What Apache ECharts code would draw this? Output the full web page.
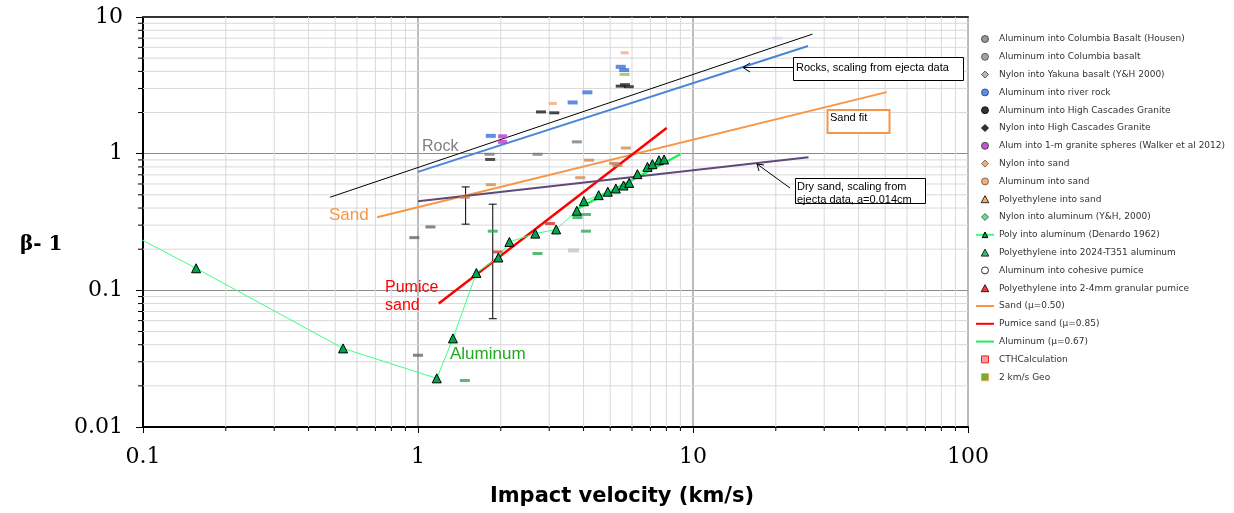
<!DOCTYPE html>
<html>
<head>
<meta charset="utf-8">
<script src="https://cdn.jsdelivr.net/npm/echarts@6/dist/echarts.min.js"></script>
<style>
  html, body { margin: 0; padding: 0; background: #fff; }
  #chart { width: 1234px; height: 513px; }
</style>
</head>
<body>
<div id="chart"></div>
<script>
// axis ticks (log-log)
const xMajor = [0.1, 1, 10, 100]
const yMajor = [0.01, 0.1, 1, 10]
const xMinor = [0.2, 0.3, 0.4, 0.5, 0.6, 0.7, 0.8, 0.9, 2, 3, 4, 5, 6, 7, 8, 9, 20, 30, 40, 50, 60, 70, 80, 90]
const yMinor = [0.02, 0.03, 0.04, 0.05, 0.06, 0.07, 0.08, 0.09, 0.2, 0.3, 0.4, 0.5, 0.6, 0.7, 0.8, 0.9, 2, 3, 4, 5, 6, 7, 8, 9]

// measured points: [impact velocity km/s, beta - 1]
const basaltHousen = [[0.97, 0.243], [1.11, 0.291], [1.0, 0.0335]]
const basaltColumbia = [[1.82, 0.99], [2.72, 0.99], [3.78, 1.22]]
const nylonYakuna = [[3.68, 0.196]]
const riverRock = [[1.84, 1.35], [3.65, 2.37], [4.13, 2.81], [5.46, 4.32], [5.62, 4.09]]
const riverRockFaint = [[20.3, 7.0]]
const graniteAl = [[2.8, 2.02], [3.13, 1.99], [5.46, 3.12], [5.84, 3.09]]
const graniteNylon = [[1.83, 0.907], [5.66, 3.2]]
const graniteSpheres = [[2.03, 1.22], [2.03, 1.34]]
const nylonSand = [[3.09, 2.33], [5.64, 5.47]]
const aluminumSand = [[1.84, 0.593], [3.89, 0.667], [4.19, 0.896], [5.7, 1.1]]
const polySand = [[1.48, 0.48], [5.17, 0.85], [5.31, 0.82]]
const nylonAluminum = [[1.48, 0.0219], [1.87, 0.271], [2.72, 0.186], [3.8, 0.341], [4.08, 0.271], [4.08, 0.359]]
const denardo = [
  [0.05, 0.48], [0.156, 0.145], [0.534, 0.0376], [1.17, 0.0227], [1.34, 0.0445], [1.63, 0.134],
  [1.96, 0.174], [2.15, 0.226], [2.67, 0.26], [3.18, 0.279], [3.78, 0.382], [4.01, 0.449],
  [4.54, 0.497], [4.9, 0.527], [5.24, 0.556], [5.59, 0.585], [5.86, 0.611], [6.28, 0.708],
  [6.83, 0.8], [7.12, 0.838], [7.52, 0.895], [7.85, 0.907]
]
const poly2024 = []
const cohesivePumice = []
const granularPumice = [[1.95, 0.191], [3.02, 0.308]]
const cthCalc = []
const geo2kms = [[5.64, 3.8]]

// fitted / scaling lines (end points)
const sandFit = [[0.71, 0.343], [50.6, 2.82]]
const pumiceFit = [[1.19, 0.08], [8.02, 1.54]]
const aluminumFit = [[3.75, 0.39], [9.0, 0.99]]
const rockUpper = [[0.479, 0.48], [27.2, 7.5]]
const rockEjecta = [[1.0, 0.736], [26.2, 6.13]]
const drySandEjecta = [[1.0, 0.449], [26.3, 0.94]]

// error bars: [x, low, high]
const errorBars = [[1.49, 0.305, 0.571], [1.87, 0.062, 0.427]]

const chart = echarts.init(document.getElementById('chart'))

const dash = (name, data, color, size) => ({
  name: name,
  type: 'scatter',
  data: data,
  symbol: 'rect',
  symbolSize: size || [10, 3],
  itemStyle: { color: color },
  z: 4
})

const fitLine = (name, data, color, width) => ({
  name: name,
  type: 'line',
  data: data,
  symbol: 'none',
  silent: true,
  itemStyle: { color: color },
  lineStyle: { color: color, width: width },
  z: 3
})

const minorGrid = (dir) => ({
  type: 'custom',
  silent: true,
  z: 1,
  data: dir === 'x' ? xMinor.map(v => [v, 1]) : yMinor.map(v => [1, v]),
  encode: { x: 0, y: 1 },
  renderItem: (params, api) => {
    const cs = params.coordSys
    const p = api.coord([api.value(0), api.value(1)])
    if (dir === 'x') {
      return {
        type: 'group', children: [
          { type: 'line', shape: { x1: p[0], y1: cs.y, x2: p[0], y2: cs.y + cs.height }, style: { stroke: '#d9d9d9', lineWidth: 1 } },
          { type: 'line', shape: { x1: p[0], y1: cs.y + cs.height, x2: p[0], y2: cs.y + cs.height + 4 }, style: { stroke: '#000', lineWidth: 1 } }
        ]
      }
    }
    return {
      type: 'group', children: [
        { type: 'line', shape: { x1: cs.x, y1: p[1], x2: cs.x + cs.width, y2: p[1] }, style: { stroke: '#d9d9d9', lineWidth: 1 } },
        { type: 'line', shape: { x1: cs.x - 5, y1: p[1], x2: cs.x, y2: p[1] }, style: { stroke: '#000', lineWidth: 1 } }
      ]
    }
  }
})

// legend icons drawn inside an 18x7 box so they are not stretched
const barIcon = 'path://M0,0 L18,0 L18,2 L0,2 Z'
const diamondIcon = 'path://M0,0 M18,7 M9,0 L12.5,3.5 L9,7 L5.5,3.5 Z'
const triangleIcon = 'path://M0,0 M18,7 M9,0 L12.8,7 L5.2,7 Z'

const legendItems = [
  { name: 'Aluminum into Columbia Basalt (Housen)', icon: 'circle', itemStyle: { color: '#7f7f7f', borderColor: '#333', borderWidth: 1 } },
  { name: 'Aluminum into Columbia basalt', icon: 'circle', itemStyle: { color: '#8c8c8c', borderColor: '#444', borderWidth: 1 } },
  { name: 'Nylon into Yakuna basalt (Y&H 2000)', icon: diamondIcon, itemStyle: { color: '#a6a6a6', borderColor: '#333', borderWidth: 1 } },
  { name: 'Aluminum into river rock', icon: 'circle', itemStyle: { color: '#3a6fd8', borderColor: '#1f3f8f', borderWidth: 1 } },
  { name: 'Aluminum into High Cascades Granite', icon: 'circle', itemStyle: { color: '#000', borderColor: '#000', borderWidth: 1 } },
  { name: 'Nylon into High Cascades Granite', icon: diamondIcon, itemStyle: { color: '#000', borderColor: '#000', borderWidth: 1 } },
  { name: 'Alum into 1-m granite spheres (Walker et al 2012)', icon: 'circle', itemStyle: { color: '#b030c0', borderColor: '#333', borderWidth: 1 } },
  { name: 'Nylon into sand', icon: diamondIcon, itemStyle: { color: '#f79646', borderColor: '#555', borderWidth: 1 } },
  { name: 'Aluminum into sand', icon: 'circle', itemStyle: { color: '#f79646', borderColor: '#555', borderWidth: 1 } },
  { name: 'Polyethylene into sand', icon: triangleIcon, itemStyle: { color: '#f79646', borderColor: '#000', borderWidth: 1 } },
  { name: 'Nylon into aluminum (Y&H, 2000)', icon: diamondIcon, itemStyle: { color: '#33dd66', borderColor: '#444', borderWidth: 1 } },
  { name: 'Poly into aluminum (Denardo 1962)', itemStyle: { color: '#00a550', borderColor: '#000', borderWidth: 1 } },
  { name: 'Polyethylene into 2024-T351 aluminum', icon: triangleIcon, itemStyle: { color: '#00b050', borderColor: '#000', borderWidth: 1 } },
  { name: 'Aluminum into cohesive pumice', icon: 'circle', itemStyle: { color: '#fff', borderColor: '#000', borderWidth: 1 } },
  { name: 'Polyethylene into 2-4mm granular pumice', icon: triangleIcon, itemStyle: { color: '#ff0000', borderColor: '#000', borderWidth: 1 } },
  { name: 'Sand (μ=0.50)', icon: barIcon, itemStyle: { color: '#f79646', borderWidth: 0 } },
  { name: 'Pumice sand (μ=0.85)', icon: barIcon, itemStyle: { color: '#ff0000', borderWidth: 0 } },
  { name: 'Aluminum (μ=0.67)', icon: barIcon, itemStyle: { color: '#22ee55', borderWidth: 0 } },
  { name: 'CTHCalculation', icon: 'path://M0,0 M18,7 M5.5,0 L12.5,0 L12.5,7 L5.5,7 Z', itemStyle: { color: '#ff8080', borderColor: '#e00000', borderWidth: 1 } },
  { name: '2 km/s Geo', icon: 'path://M0,0 M18,7 M5.5,0 L12.5,0 L12.5,7 L5.5,7 Z', itemStyle: { color: '#4e9a06', borderColor: '#f79646', borderWidth: 1 } }
]

const option = {
  backgroundColor: '#fff',
  animation: false,
  grid: { left: 143, right: 266, top: 17, bottom: 86 },
  xAxis: [
    {
      type: 'log',
      logBase: 10,
      min: 0.1,
      max: 100,
      axisLine: { lineStyle: { color: '#000', width: 2 } },
      axisTick: { length: 6, lineStyle: { color: '#000' } },
      axisLabel: { color: '#000', fontSize: 22, fontFamily: 'DejaVu Serif', margin: 19 },
      splitLine: { show: true, lineStyle: { color: '#a6a6a6', width: 1.5 } }
    },
    {
      type: 'log',
      position: 'top',
      min: 0.1,
      max: 100,
      axisLine: { show: true, lineStyle: { color: '#333', width: 2 } },
      axisTick: { show: false },
      axisLabel: { show: false },
      splitLine: { show: false }
    }
  ],
  yAxis: {
    type: 'log',
    logBase: 10,
    min: 0.01,
    max: 10,
    axisLine: { show: true, lineStyle: { color: '#000', width: 2 } },
    axisTick: { show: true, length: 7, lineStyle: { color: '#000' } },
    axisLabel: { color: '#000', fontSize: 22, fontFamily: 'DejaVu Serif', margin: 20 },
    splitLine: { show: true, lineStyle: { color: '#8c8c8c', width: 1.2 } }
  },
  legend: {
    orient: 'vertical',
    left: 975,
    top: 33,
    padding: 0,
    itemWidth: 18,
    itemHeight: 7,
    itemGap: 5.8,
    selectedMode: false,
    textStyle: { fontFamily: 'DejaVu Sans', fontSize: 9, color: '#333', lineHeight: 12 },
    data: legendItems
  },
  series: [
    minorGrid('x'),
    minorGrid('y'),
    dash('Aluminum into Columbia Basalt (Housen)', basaltHousen, '#666666'),
    dash('Aluminum into Columbia basalt', basaltColumbia, '#7a7a7a'),
    dash('Nylon into Yakuna basalt (Y&H 2000)', nylonYakuna, '#c4c4c4', [11, 4]),
    dash('Aluminum into river rock', riverRock, '#3a6fd8', [10, 4]),
    dash('river rock faint', riverRockFaint, '#cfe0f4', [10, 3]),
    dash('Aluminum into High Cascades Granite', graniteAl, '#1a1a1a'),
    dash('Nylon into High Cascades Granite', graniteNylon, '#262626'),
    dash('Alum into 1-m granite spheres (Walker et al 2012)', graniteSpheres, '#b43cc8', [9, 4]),
    dash('Nylon into sand', nylonSand, '#f4a582', [8, 3]),
    dash('Aluminum into sand', aluminumSand, '#cf8a55'),
    dash('Polyethylene into sand', polySand, '#c27a50'),
    dash('Nylon into aluminum (Y&H, 2000)', nylonAluminum, '#2ea858'),
    {
      name: 'Poly into aluminum (Denardo 1962)',
      type: 'line',
      data: denardo,
      symbol: 'triangle',
      symbolSize: 9,
      showAllSymbol: true,
      itemStyle: { color: '#00a550', borderColor: '#000', borderWidth: 1 },
      lineStyle: { color: '#3dff80', width: 1 },
      z: 5
    },
    {
      name: 'Polyethylene into 2024-T351 aluminum',
      type: 'scatter',
      data: poly2024,
      symbol: 'triangle',
      symbolSize: 9,
      itemStyle: { color: '#00b050', borderColor: '#000', borderWidth: 1 }
    },
    dash('Aluminum into cohesive pumice', cohesivePumice, '#fff'),
    dash('Polyethylene into 2-4mm granular pumice', granularPumice, '#d03030'),
    fitLine('Sand (μ=0.50)', sandFit, '#f79646', 2),
    fitLine('Pumice sand (μ=0.85)', pumiceFit, '#ff0000', 2.5),
    fitLine('Aluminum (μ=0.67)', aluminumFit, '#22ee55', 2.5),
    dash('CTHCalculation', cthCalc, '#ff8080'),
    dash('2 km/s Geo', geo2kms, '#9bbb59'),
    fitLine('rock upper', rockUpper, '#000', 1),
    fitLine('rock ejecta', rockEjecta, '#4a86d8', 2),
    fitLine('dry sand ejecta', drySandEjecta, '#5f497a', 2),
    {
      name: 'error bars',
      type: 'custom',
      silent: true,
      z: 3,
      data: errorBars,
      encode: { x: 0, y: [1, 2] },
      renderItem: (params, api) => {
        const lo = api.coord([api.value(0), api.value(1)])
        const hi = api.coord([api.value(0), api.value(2)])
        const st = { stroke: '#000', lineWidth: 1 }
        return {
          type: 'group', children: [
            { type: 'line', shape: { x1: lo[0], y1: lo[1], x2: hi[0], y2: hi[1] }, style: st },
            { type: 'line', shape: { x1: lo[0] - 4, y1: lo[1], x2: lo[0] + 4, y2: lo[1] }, style: st },
            { type: 'line', shape: { x1: hi[0] - 4, y1: hi[1], x2: hi[0] + 4, y2: hi[1] }, style: st }
          ]
        }
      }
    }
  ],
  graphic: [
    { type: 'text', x: 20, y: 245, style: { text: 'β- 1', font: 'bold 20px "DejaVu Serif"', fill: '#000', verticalAlign: 'middle' } },
    { type: 'text', x: 622, y: 497, style: { text: 'Impact velocity (km/s)', font: 'bold 21px "DejaVu Sans"', fill: '#000', align: 'center', verticalAlign: 'middle' } },
    { type: 'text', x: 422, y: 147, z: 20, style: { text: 'Rock', font: '16px "Liberation Sans"', fill: '#808080', verticalAlign: 'middle' } },
    { type: 'text', x: 329, y: 215, z: 20, style: { text: 'Sand', font: '17px "Liberation Sans"', fill: '#f79646', verticalAlign: 'middle' } },
    { type: 'text', x: 385, y: 288, z: 20, style: { text: 'Pumice', font: '16px "Liberation Sans"', fill: '#ff0000', verticalAlign: 'middle' } },
    { type: 'text', x: 385, y: 306, z: 20, style: { text: 'sand', font: '16px "Liberation Sans"', fill: '#ff0000', verticalAlign: 'middle' } },
    { type: 'text', x: 450, y: 354, z: 20, style: { text: 'Aluminum', font: '17px "Liberation Sans"', fill: '#22aa22', verticalAlign: 'middle' } },
    // Rocks annotation
    { type: 'rect', z: 20, shape: { x: 793.5, y: 57.5, width: 170, height: 23 }, style: { fill: '#fff', stroke: '#000', lineWidth: 1 } },
    { type: 'text', z: 21, x: 796, y: 68, style: { text: 'Rocks, scaling from ejecta data', font: '11px "Liberation Sans"', fill: '#000', verticalAlign: 'middle' } },
    { type: 'line', z: 20, shape: { x1: 793, y1: 67.5, x2: 743, y2: 67.5 }, style: { stroke: '#000', lineWidth: 1 } },
    { type: 'polyline', z: 20, shape: { points: [[750, 63], [743, 67.5], [750, 72]] }, style: { stroke: '#000', fill: null, lineWidth: 1 } },
    // Sand fit annotation
    { type: 'rect', z: 20, shape: { x: 827.5, y: 110, width: 62, height: 23 }, style: { fill: '#fff', stroke: '#f79646', lineWidth: 2 } },
    { type: 'text', z: 21, x: 830, y: 118, style: { text: 'Sand fit', font: '11px "Liberation Sans"', fill: '#000', verticalAlign: 'middle' } },
    // Dry sand annotation
    { type: 'rect', z: 20, shape: { x: 795.5, y: 178.5, width: 130, height: 25 }, style: { fill: '#fff', stroke: null } },
    { type: 'text', z: 21, x: 797, y: 187, style: { text: 'Dry sand, scaling from', font: '11px "Liberation Sans"', fill: '#000', verticalAlign: 'middle' } },
    { type: 'text', z: 21, x: 797, y: 200, style: { text: 'ejecta data, a=0.014cm', font: '11px "Liberation Sans"', fill: '#000', verticalAlign: 'middle' } },
    { type: 'rect', z: 22, shape: { x: 795.5, y: 178.5, width: 130, height: 25 }, style: { fill: null, stroke: '#000', lineWidth: 1 } },
    { type: 'line', z: 20, shape: { x1: 790, y1: 188, x2: 757, y2: 164 }, style: { stroke: '#000', lineWidth: 1 } },
    { type: 'polyline', z: 20, shape: { points: [[759, 171], [757, 164], [764, 165]] }, style: { stroke: '#000', fill: null, lineWidth: 1 } }
  ]
}

chart.setOption(option)
</script>
</body>
</html>
